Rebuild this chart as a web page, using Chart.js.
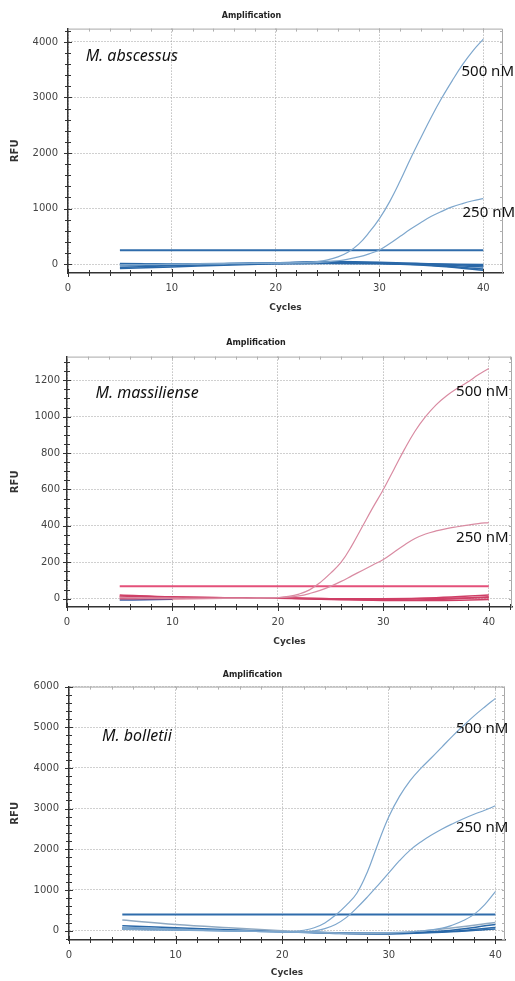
<!DOCTYPE html>
<html>
<head>
<meta charset="utf-8">
<script src="https://cdn.jsdelivr.net/npm/chart.js@4.4.1/dist/chart.umd.min.js"></script>
<style>
  html, body { margin: 0; padding: 0; background: #fff; }
  .panel { position: absolute; left: 0; width: 515px; }
  canvas { display: block; }
</style>
</head>
<body>
<div class="panel" style="top:0"><canvas id="chartAbsc" width="515" height="330"></canvas></div>
<div class="panel" style="top:330px"><canvas id="chartMass" width="515" height="330"></canvas></div>
<div class="panel" style="top:660px"><canvas id="chartBoll" width="515" height="321"></canvas></div>
<script>
// ===== 데이터 =====
const cycles = [5, 6, 7, 8, 9, 10, 11, 12, 13, 14, 15, 16, 17, 18, 19, 20, 21, 22, 23, 24, 25, 26, 27, 28, 29, 30, 31, 32, 33, 34, 35, 36, 37, 38, 39, 40];
const baseCycles = [5, 10, 15, 20, 25, 30, 35, 40];
const xTicks = [0, 10, 20, 30, 40];

// M. abscessus
const abscTicks = [0, 1000, 2000, 3000, 4000];
const absc500 = [-12, -9, -7, -4, -3, 0, 1, 4, 7, 8, 10, 13, 14, 17, 18, 20, 23, 27, 33, 45, 75, 130, 220, 360, 570, 820, 1130, 1500, 1900, 2280, 2650, 2990, 3300, 3590, 3840, 4050];
const absc250 = [-20, -16, -12, -9, -6, -4, -2, 0, 2, 4, 6, 8, 10, 12, 14, 16, 18, 20, 23, 28, 40, 60, 90, 130, 185, 255, 370, 500, 630, 750, 860, 950, 1030, 1090, 1140, 1180];
const abscThreshold = 250;
const abscBaselines = [
  [-60, -30, -5, 20, 35, 20, -10, -50],
  [-30, -15, 5, 25, 45, 35, 5, -30],
  [0, 5, 10, 20, 30, 15, -20, -90],
  [-80, -50, -20, 5, 20, 10, -30, -110],
  [10, 5, 0, 5, 10, 5, 0, -5]
];

// M. massiliense
const massTicks = [0, 200, 400, 600, 800, 1000, 1200];
const mass500 = [8, 6, 5, 4, 3, 3, 2, 2, 2, 1, 1, 1, 2, 3, 4, 6, 12, 25, 48, 88, 140, 200, 290, 395, 500, 600, 710, 820, 920, 1000, 1065, 1115, 1155, 1190, 1230, 1265];
const mass250 = [4, 4, 3, 3, 3, 2, 2, 2, 2, 2, 3, 3, 3, 4, 4, 5, 8, 15, 28, 45, 68, 95, 125, 155, 185, 215, 255, 295, 330, 355, 372, 385, 395, 404, 412, 418];
const massThreshold = 68;
const massBaselines = [
  [20, 10, 5, 5, 0, -5, 5, 20],
  [10, 5, 3, 2, -3, -8, -5, 10],
  [0, 0, 2, 3, -5, -10, -10, -5],
  [15, 8, 5, 3, 0, 0, 2, 5]
];
const massBlueCycles = [5, 7.5, 10];
const massBlue = [-8, -6, -3];

// M. bolletii
const bollTicks = [0, 1000, 2000, 3000, 4000, 5000, 6000];
const boll500 = [50, 46, 41, 36, 31, 25, 20, 15, 10, 5, 0, -5, -10, -15, -20, -24, -20, 10, 70, 190, 380, 620, 920, 1450, 2150, 2800, 3300, 3690, 3990, 4250, 4520, 4790, 5040, 5280, 5500, 5710];
const boll250 = [80, 72, 64, 56, 48, 40, 32, 24, 16, 8, 0, -8, -15, -22, -28, -33, -36, -30, -5, 50, 150, 320, 560, 830, 1120, 1420, 1720, 1980, 2180, 2350, 2500, 2630, 2750, 2860, 2960, 3070];
const bollThreshold = 400;
const bollLateCycles = [5, 10, 15, 20, 25, 30, 33, 35, 36, 37, 38, 39, 40];
const bollLate = [30, 10, -10, -30, -60, -50, -10, 60, 140, 250, 400, 640, 960];
const bollBaselines = [
  [260, 150, 70, 0, -60, -60, 40, 200],
  [120, 70, 20, -20, -60, -70, -10, 150],
  [70, 40, 10, -20, -50, -60, -30, 80],
  [40, 20, 0, -30, -70, -80, -40, 40]
];

// ===== 차트 =====
const FONT = 'DejaVu Sans';

function curve(xs, ys, color, width) {
  return {
    data: xs.map((x, i) => ({ x, y: ys[i] })),
    borderColor: color, borderWidth: width, pointRadius: 0,
    tension: 0.4, fill: false
  };
}

function flat(value, color) {
  return curve([5, 40], [value, value], color, 2);
}

// 테두리, 보조 눈금, 라벨
const framePlugin = {
  id: 'frame',
  beforeDatasetsDraw(chart) {
    const { ctx, chartArea: a } = chart;
    ctx.save();
    ctx.strokeStyle = '#a8a8a8';
    ctx.lineWidth = 1;
    ctx.beginPath();
    ctx.moveTo(a.left, a.top + 0.5); ctx.lineTo(a.right - 0.5, a.top + 0.5); ctx.lineTo(a.right - 0.5, a.bottom);
    ctx.stroke();
    ctx.restore();
  },
  afterDraw(chart, args, opts) {
    const { ctx, chartArea: a, scales: { x, y } } = chart;
    ctx.save();
    ctx.lineWidth = 1;
    ctx.strokeStyle = '#333';
    ctx.beginPath();
    for (let v = 0; v <= x.max; v += 2) {
      const px = Math.round(x.getPixelForValue(v)) + 0.5;
      const len = v % 10 === 0 ? 4 : 3;
      ctx.moveTo(px, a.bottom - len); ctx.lineTo(px, a.bottom + len);
    }
    for (let v = Math.ceil(y.min / opts.yMinor) * opts.yMinor; v <= y.max; v += opts.yMinor) {
      const py = Math.round(y.getPixelForValue(v)) + 0.5;
      const len = opts.yMajor.includes(v) ? 4 : 3;
      ctx.moveTo(a.left - len, py); ctx.lineTo(a.left + len, py);
    }
    ctx.stroke();
    ctx.strokeStyle = '#b0b0b0';
    ctx.beginPath();
    for (let v = 2; v <= x.max; v += 2) {
      const px = Math.round(x.getPixelForValue(v)) + 0.5;
      ctx.moveTo(px, a.top); ctx.lineTo(px, a.top + 3);
    }
    for (let v = Math.ceil(y.min / opts.yMinor) * opts.yMinor; v <= y.max; v += opts.yMinor) {
      const py = Math.round(y.getPixelForValue(v)) + 0.5;
      ctx.moveTo(a.right, py); ctx.lineTo(a.right - 3, py);
    }
    ctx.stroke();

    ctx.fillStyle = '#111';
    ctx.textBaseline = 'middle';
    ctx.textAlign = 'left';
    opts.labels.forEach(l => {
      ctx.font = l.italic ? 'italic 16px "Noto Sans"' : '15px "Noto Sans"';
      ctx.fillText(l.text, x.getPixelForValue(l.x), y.getPixelForValue(l.y));
    });
    ctx.restore();
  }
};

function makePanel(id, p) {
  return new Chart(document.getElementById(id), {
    type: 'line',
    data: { datasets: p.datasets },
    plugins: [framePlugin],
    options: {
      responsive: false,
      animation: false,
      layout: { padding: { left: 0, right: p.padRight, top: 0, bottom: 0 } },
      plugins: {
        legend: { display: false },
        tooltip: { enabled: false },
        title: {
          display: true, text: 'Amplification', color: '#222',
          font: { family: FONT, size: 8, weight: 'bold' },
          padding: p.titlePad
        },
        frame: { labels: p.labels, yMinor: p.yMinor, yMajor: p.yTicks }
      },
      scales: {
        x: {
          type: 'linear', min: 0, max: p.xMax,
          afterBuildTicks: s => { s.ticks = xTicks.map(v => ({ value: v })); },
          afterFit: s => { s.height = p.axisH; },
          ticks: { color: '#444', font: { family: FONT, size: 10 }, padding: 9, maxRotation: 0, callback: v => String(v) },
          grid: { color: '#a0a0a0', lineWidth: 1, drawTicks: false },
          border: { display: true, color: '#333', width: 1.5, dash: [1, 2] },
          title: { display: true, text: 'Cycles', color: '#333', font: { family: FONT, size: 9, weight: 'bold' }, padding: { top: 0, bottom: p.cyclesPad } }
        },
        y: {
          min: p.yMin, max: p.yMax,
          afterBuildTicks: s => { s.ticks = p.yTicks.map(v => ({ value: v })); },
          afterFit: s => { s.width = p.left; },
          ticks: { color: '#444', font: { family: FONT, size: 10 }, padding: p.yPad, callback: v => String(v) },
          grid: { color: '#a0a0a0', lineWidth: 1, drawTicks: false },
          border: { display: true, color: '#333', width: 1.5, dash: [1, 2] },
          title: { display: true, text: 'RFU', color: '#333', font: { family: FONT, size: 10, weight: 'bold' }, padding: { top: 9, bottom: 0 } }
        }
      }
    }
  });
}

const blueAmp = '#7ea7cd';
const blueBase = '#2a68a8';
const blueThr = '#2f6cab';
const pinkAmp = '#d98ba2';
const pinkBase = '#cf3f66';
const pinkThr = '#e4507a';

makePanel('chartAbsc', {
  left: 68, padRight: 12, axisH: 57, titlePad: { top: 11, bottom: 8 }, cyclesPad: 17,
  xMax: 41.9, yMin: -160, yMax: 4240, yTicks: abscTicks, yMinor: 200, yPad: 10,
  datasets: [
    curve(cycles, absc500, blueAmp, 1.2),
    curve(cycles, absc250, blueAmp, 1.2),
    flat(abscThreshold, blueThr),
    ...abscBaselines.map(b => curve(baseCycles, b, blueBase, 1.5))
  ],
  labels: [
    { text: 'M. abscessus', x: 1.7, y: 3740, italic: true },
    { text: '500 nM', x: 37.9, y: 3470 },
    { text: '250 nM', x: 38.0, y: 920 }
  ]
});

makePanel('chartMass', {
  left: 67, padRight: 3, axisH: 53, titlePad: { top: 8, bottom: 9 }, cyclesPad: 13,
  xMax: 42.2, yMin: -46, yMax: 1330, yTicks: massTicks, yMinor: 50, yPad: 7,
  datasets: [
    curve(cycles, mass500, pinkAmp, 1.2),
    curve(cycles, mass250, pinkAmp, 1.2),
    flat(massThreshold, pinkThr),
    ...massBaselines.map(b => curve(baseCycles, b, pinkBase, 1.5)),
    curve(massBlueCycles, massBlue, '#3b5fa8', 1.5)
  ],
  labels: [
    { text: 'M. massiliense', x: 2.7, y: 1130, italic: true },
    { text: '500 nM', x: 36.9, y: 1136 },
    { text: '250 nM', x: 36.9, y: 333 }
  ]
});

makePanel('chartBoll', {
  left: 69, padRight: 10, axisH: 41, titlePad: { top: 10, bottom: 7 }, cyclesPad: 3,
  xMax: 40.9, yMin: -230, yMax: 6000, yTicks: bollTicks, yMinor: 200, yPad: 10,
  datasets: [
    curve(cycles, boll500, blueAmp, 1.2),
    curve(cycles, boll250, blueAmp, 1.2),
    curve(bollLateCycles, bollLate, blueAmp, 1.2),
    flat(bollThreshold, blueThr),
    curve(baseCycles, bollBaselines[0], '#8fa9c2', 1.5),
    ...bollBaselines.slice(1).map(b => curve(baseCycles, b, blueBase, 1.5))
  ],
  labels: [
    { text: 'M. bolletii', x: 3.1, y: 4780, italic: true },
    { text: '500 nM', x: 36.3, y: 4960 },
    { text: '250 nM', x: 36.3, y: 2540 }
  ]
});
</script>
</body>
</html>
